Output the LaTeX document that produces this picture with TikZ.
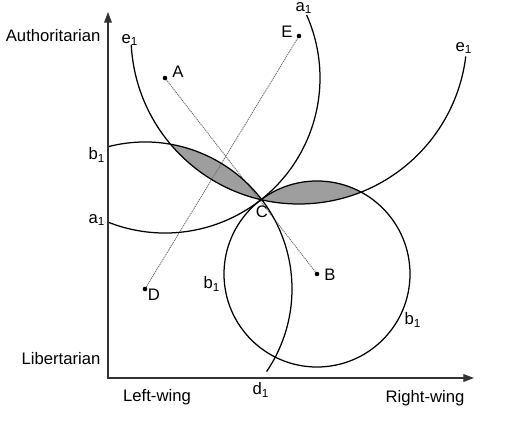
\documentclass[tikz,border=0pt]{standalone}
\usepackage{fontspec}
\setmainfont{Liberation Sans}
\usetikzlibrary{arrows.meta}
\def\circleE{(E) circle (168)}
\def\circleB{(B) circle (93)}
\def\circleD{(D) circle (147)}
\def\sone#1{#1\textsubscript{1}}

\begin{document}
\begin{tikzpicture}[x=0.6pt, y=0.6pt, fill=black!38, line width=0.75pt,
	dotline/.style={line width=0.5pt, black!60, dash pattern=on 0.7pt off 0.5pt},
	axis/.style={line width=0.75pt, black!80, {Triangle[length=6.4pt,width=4.6pt]}-{Triangle[length=6.4pt,width=4.6pt]}},
	lab/.style={inner sep=0pt, font=\fontsize{10}{12}\selectfont}]
	\useasboundingbox (0,0) rectangle (508,425);
	% ideal points
	\coordinate (A) at (165,347);
	\coordinate (E) at (299,389);
	\coordinate (B) at (317,151);
	\coordinate (D) at (145,136);
	\coordinate (ytop) at (108,413);
	\coordinate (xend) at (474,47);

	% win sets
	\begin{scope}
		\clip \circleE;
		\fill \circleD;
		\fill \circleB;
	\end{scope}

	\draw[dotline] (A) -- (B);
	\draw[dotline] (D) -- (E);

	\draw (E) ++(183:168) arc[start angle=183, end angle=353, radius=168];
	\draw (A) ++(248.4:155) arc[start angle=248.4, end angle=384, radius=155];
	\draw (D) ++(104.7:147) arc[start angle=104.7, end angle=-34.2, radius=147];
	\draw \circleB;

	\draw[axis] (ytop) |- (xend);

	\foreach \p in {A,E,B,D} \fill[black] (\p) circle (2.3);

	\node[lab] (labA) at (178,353) {A};
	\node[lab] (labE) at (287,393) {E};
	\node[lab] (labB) at (330,150) {B};
	\node[lab] (labD) at (154,130) {D};
	\node[lab] (labC) at (262,213) {C};

	\node[lab] (e1l) at (130,385) {\sone{e}};
	\node[lab] (e1r) at (464,377) {\sone{e}};
	\node[lab] (a1t) at (304,417) {\sone{a}};
	\node[lab] (a1l) at (97,205) {\sone{a}};
	\node[lab] (b1l) at (97,270) {\sone{b}};
	\node[lab] (b1i) at (212,141) {\sone{b}};
	\node[lab] (b1r) at (413,105) {\sone{b}};
	\node[lab] (d1) at (261,35) {\sone{d}};

	\node[lab, anchor=east] (auth) at (101,389) {Authoritarian};
	\node[lab, anchor=east] (lib) at (101,66) {Libertarian};
	\node[lab] (left) at (157,28) {Left-wing};
	\node[lab] (right) at (425,27) {Right-wing};
\end{tikzpicture}
\end{document}
